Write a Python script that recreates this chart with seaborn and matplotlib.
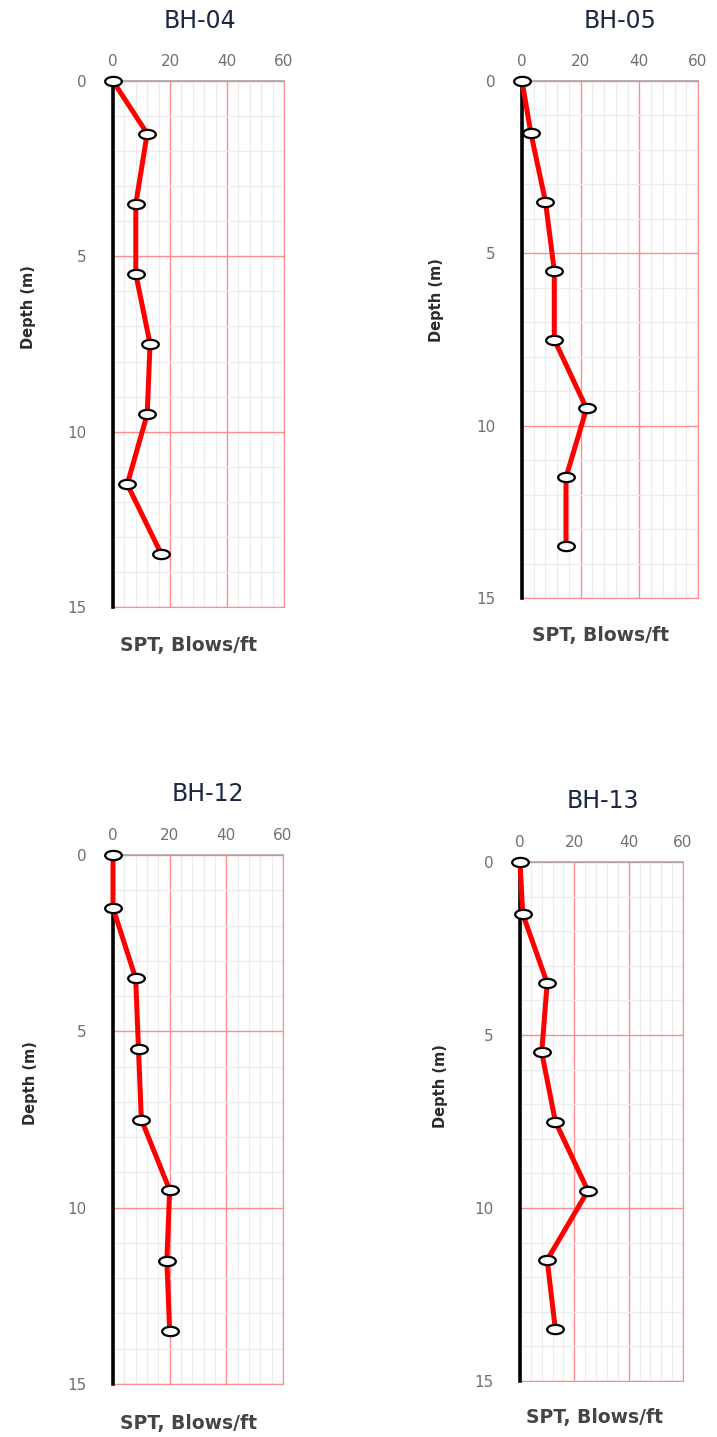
import numpy as np
import pandas as pd
import seaborn as sns
import matplotlib.pyplot as plt
from matplotlib.path import Path
from matplotlib.ticker import MultipleLocator

# SPT blow counts per borehole, read at the sampling depths
depths = [0, 1.5, 3.5, 5.5, 7.5, 9.5, 11.5, 13.5]
boreholes = ["BH-04", "BH-05", "BH-12", "BH-13"]
bh04 = [0, 12, 8, 8, 13, 12, 5, 17]
bh05 = [0, 3, 8, 11, 11, 22, 15, 15]
bh12 = [0, 0, 8, 9, 10, 20, 19, 20]
bh13 = [0, 1, 10, 8, 13, 25, 10, 13]
spt_values = [bh04, bh05, bh12, bh13]
x_ticks = [0, 20, 40, 60]
y_ticks = [0, 5, 10, 15]

W, H = 717, 1437

# axes boxes in pixels: left, top, right, bottom
boxes = [(113, 81, 284, 607), (522, 81, 698, 598),
         (113, 855, 283, 1384), (520, 862, 683, 1381)]
title_pos = [(200, 21), (620, 21), (208, 794), (603, 801)]
xlabel_pos = [(188, 645), (600, 636), (188, 1423), (595, 1418)]
ylabel_pos = [(28, 307), (437, 300), (30, 1083), (440, 1086)]

sns.set_style("white")
plt.rcParams["font.family"] = ["DejaVu Sans"]

# slightly flattened circle like the original markers
circ = Path.unit_circle()
ellipse = Path(circ.vertices * [1.8, 1.0], circ.codes)

grid_red = "#ff8c8c"
tick_grey = "#707070"

fig = plt.figure(figsize=(W / 100, H / 100), dpi=100)

for i, name in enumerate(boreholes):
    l, t, r, b = boxes[i]
    ax = fig.add_axes([l / W, 1 - b / H, (r - l) / W, (b - t) / H])
    df = pd.DataFrame({"SPT": spt_values[i], "Depth": depths})
    sns.lineplot(data=df, x="SPT", y="Depth", sort=False, estimator=None,
                 color="#ff0000", lw=3.6, marker=ellipse, ms=12,
                 mfc="white", mec="black", mew=1.6, ax=ax, zorder=5,
                 clip_on=False)

    ax.set_xlim(0, 60)
    ax.set_ylim(15, 0)
    ax.set_xticks(x_ticks)
    ax.set_yticks(y_ticks)
    ax.xaxis.set_minor_locator(MultipleLocator(4))
    ax.yaxis.set_minor_locator(MultipleLocator(1))
    ax.xaxis.tick_top()
    ax.tick_params(axis="x", which="both", length=0, pad=9,
                   labelsize=11, labelcolor=tick_grey)
    ax.tick_params(axis="y", which="both", length=0, pad=19,
                   labelsize=11, labelcolor=tick_grey)

    ax.grid(which="minor", color="#ececec", lw=0.9)
    ax.grid(which="major", color=grid_red, lw=1.0)
    ax.set_axisbelow(True)

    for side in ["top", "right", "bottom", "left"]:
        ax.spines[side].set_visible(True)
    ax.spines["top"].set_color("#a6a6a6")
    ax.spines["top"].set_linewidth(1.2)
    ax.spines["right"].set_color(grid_red)
    ax.spines["bottom"].set_color(grid_red)
    ax.spines["left"].set_color("black")
    ax.spines["left"].set_linewidth(2.6)
    ax.spines["left"].set_zorder(4)

    ax.set_xlabel("")
    ax.set_ylabel("")

    tx, ty = title_pos[i]
    fig.text(tx / W, 1 - ty / H, name, ha="center", va="center",
             fontsize=17, color="#1c2742")
    xx, xy = xlabel_pos[i]
    fig.text(xx / W, 1 - xy / H, "SPT, Blows/ft", ha="center", va="center",
             fontsize=13.5, fontweight="bold", color="#454545")
    yx, yy = ylabel_pos[i]
    fig.text(yx / W, 1 - yy / H, "Depth (m)", ha="center", va="center",
             rotation=90, fontsize=10.5, fontweight="bold", color="#2b2b2b")

fig.savefig("out.png", dpi=100)
